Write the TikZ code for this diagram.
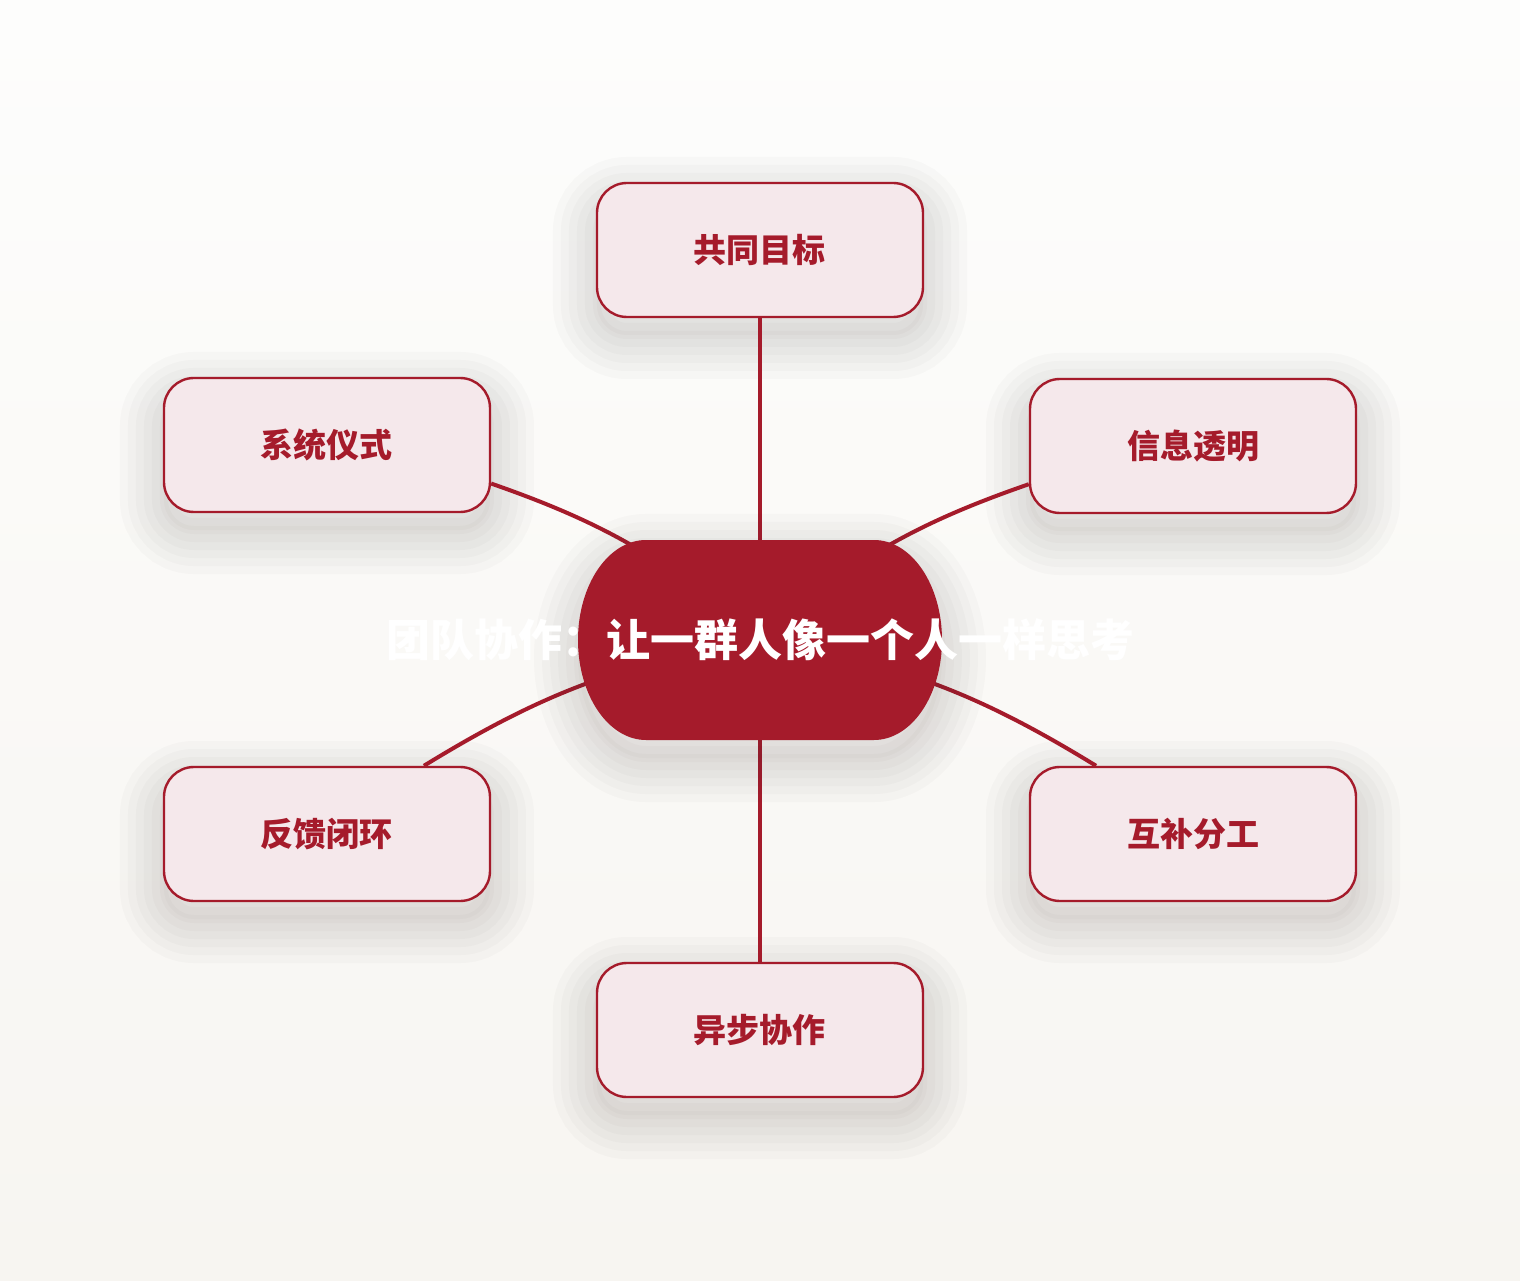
\documentclass[tikz,border=0pt]{standalone}
\usepackage{fontspec}
\newfontfamily\cjk{Noto Sans CJK SC}
\definecolor{deepred}{RGB}{165,27,43}
\definecolor{palepink}{RGB}{245,232,235}
\definecolor{bgtop}{RGB}{253,253,252}
\definecolor{bgbottom}{RGB}{247,245,241}
\definecolor{shade}{RGB}{60,50,45}
\tikzset{
  ring/.style={preaction={draw=shade, line width=#1, draw opacity=0.022, transform canvas={yshift=-9pt}}},
  soft shadow/.style={preaction={fill=shade, fill opacity=0.022, transform canvas={yshift=-9pt}},
    ring=44pt, ring=36pt, ring=28pt, ring=20pt, ring=12pt, ring=4pt},
  topic/.style={draw=deepred, line width=1.2pt, fill=palepink, rounded corners=15pt,
    minimum width=163pt, minimum height=67pt, text=deepred,
    font=\cjk\bfseries\fontsize{16.5}{18}\selectfont, soft shadow},
  core/.style={minimum width=182.5pt, minimum height=100pt, inner sep=0pt, text=white,
    font=\cjk\bfseries\fontsize{22}{26}\selectfont},
  pill/.style={fill=deepred, soft shadow},
  link/.style={draw=deepred, line width=2pt}
}
\begin{document}
\begin{tikzpicture}[x=0.5pt,y=0.5pt]
  \shade[top color=bgtop, bottom color=bgbottom] (-760,-640) rectangle (760,640);
  \useasboundingbox (-760,-640) rectangle (760,640);
  \coordinate (hub) at (0,0);
  \node[topic] (goal) at (0,390) {共同目标};
  \node[topic] (ritual) at (-433,195) {系统仪式};
  \node[topic] (info) at (433,194) {信息透明};
  \node[topic] (loop) at (-433,-194) {反馈闭环};
  \node[topic] (roles) at (433,-194) {互补分工};
  \node[topic] (async) at (0,-390) {异步协作};
  % links end under the centre pill
  \draw[link] (goal) -- (hub);
  \draw[link] (async) -- (hub);
  \draw[link] (ritual) to[bend left=11] (hub);
  \draw[link] (loop) to[bend left=11] (hub);
  \draw[link] (info) to[bend right=11] (hub);
  \draw[link] (roles) to[bend right=11] (hub);
  \path[pill] ([shift={(114,100)}]hub) arc[start angle=90, end angle=0, x radius=34pt, y radius=50pt]
    arc[start angle=0, end angle=-90, x radius=34pt, y radius=50pt]
    -- ([shift={(-114,-100)}]hub) arc[start angle=270, end angle=180, x radius=34pt, y radius=50pt]
    arc[start angle=180, end angle=90, x radius=34pt, y radius=50pt] -- cycle;
  \node[core] (core) at (hub) {\makebox[0pt]{团队协作：让一群人像一个人一样思考}};
\end{tikzpicture}
\end{document}
